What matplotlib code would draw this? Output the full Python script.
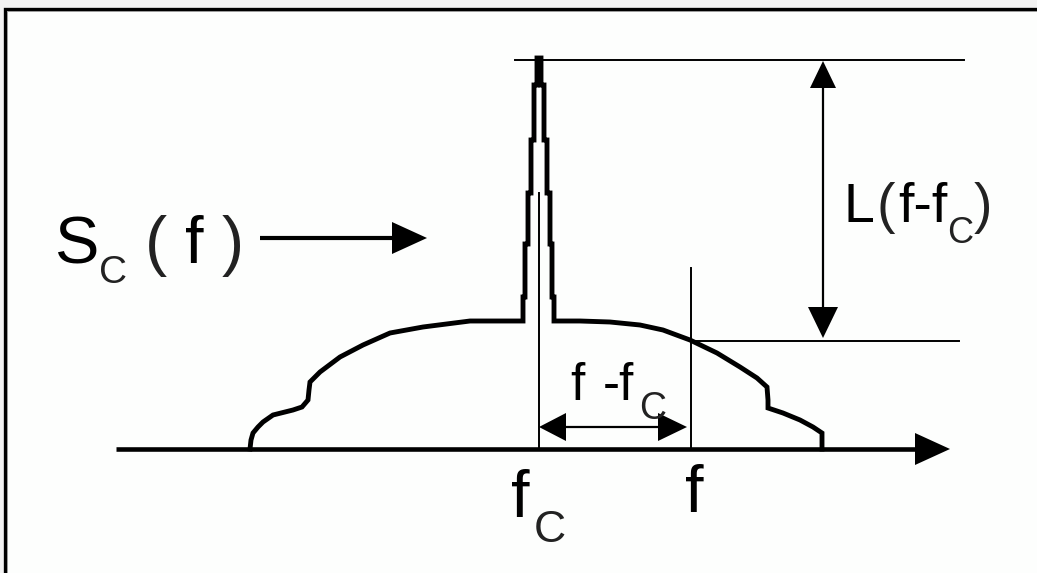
import matplotlib
matplotlib.use("Agg")
import matplotlib.pyplot as plt

# ---------------- data (pixel coordinates) ----------------
# spectrum S_C(f): left skirt, carrier peak, right skirt
curve_x = [250, 251, 253, 258, 263, 273, 285, 293, 302, 308, 309, 310, 320, 340, 363, 390, 423, 470, 523,
           523, 525, 525, 528, 528, 531, 531, 534, 534, 537, 537, 541, 541, 544, 544, 547, 547, 550, 550, 552, 552, 554,
           554, 580, 610, 640, 663, 690, 717, 740, 757, 767, 768, 768, 783, 800, 813, 822, 822]
curve_y = [449, 440, 433, 427, 422, 415, 412, 410, 407, 400, 390, 382, 372, 357, 345, 333, 327, 321, 321,
           297, 297, 244, 244, 193, 193, 140, 140, 85, 85, 58, 58, 85, 85, 140, 140, 193, 193, 244, 244, 297, 297,
           321, 321, 322, 325, 330, 340, 353, 367, 378, 387, 400, 408, 413, 420, 427, 433, 449]

# axis
axis_x = [116, 950]
axis_y = 449

# marker frequencies
fc_x = 539
f_x = 691
fc_line_top = 193
f_line_top = 268

# reference levels
peak_level = 60
noise_level = 341
peak_line_x = [515, 964]
noise_line_x = [690, 959]
L_arrow_x = 823

# S_C(f) pointer arrow
sc_arrow_x = [260, 427]
sc_arrow_y = 238

# f - f_C offset arrow
off_arrow_y = 427

W, H = 1037, 573
fig = plt.figure(figsize=(W / 100, H / 100), dpi=100, facecolor="#f3f3f3")
ax = fig.add_axes([0, 0, 1, 1])
ax.set_xlim(0, W)
ax.set_ylim(H, 0)
ax.axis("off")

# frame: white panel with black top/left border
ax.add_patch(plt.Rectangle((4, 8), W, H, facecolor="#fdfefd", edgecolor="none", zorder=0))
ax.plot([4.5, 4.5, W], [H, 8.5, 8.5], color="black", lw=2.4, solid_joinstyle="miter", zorder=1)
ax.plot([6.5, 6.5, W], [H, 10.5, 10.5], color="#9a9a9a", lw=0.7, zorder=1)

K = "black"


def head(tip_x, tip_y, dx, dy, length, half):
    # filled triangular arrow head pointing in direction (dx, dy)
    bx, by = tip_x - dx * length, tip_y - dy * length
    px, py = -dy * half, dx * half
    ax.fill([tip_x, bx + px, bx - px], [tip_y, by + py, by - py], color=K, lw=0, zorder=4)


# horizontal axis with arrow
ax.plot([axis_x[0], axis_x[1] - 30], [axis_y, axis_y], color=K, lw=3.3, solid_capstyle="butt", zorder=3)
head(axis_x[1], axis_y, 1, 0, 35, 16)

# spectrum curve
ax.plot(curve_x, curve_y, color=K, lw=3.5, solid_joinstyle="miter", zorder=3)

# vertical marker lines
ax.plot([fc_x, fc_x], [fc_line_top, axis_y], color=K, lw=1.4, zorder=2)
ax.plot([f_x, f_x], [f_line_top, axis_y], color=K, lw=1.4, zorder=2)

# reference level lines
ax.plot(peak_line_x, [peak_level, peak_level], color=K, lw=1.4, zorder=2)
ax.plot(noise_line_x, [noise_level, noise_level], color=K, lw=1.4, zorder=2)

# L(f-fc) double arrow
ax.plot([L_arrow_x, L_arrow_x], [peak_level + 20, noise_level - 20], color=K, lw=1.6, zorder=3)
head(L_arrow_x, peak_level + 1, 0, -1, 27, 13)
head(L_arrow_x, noise_level - 3, 0, 1, 31, 15)

# S_C(f) pointer arrow
ax.plot([sc_arrow_x[0], sc_arrow_x[1] - 25], [sc_arrow_y, sc_arrow_y], color=K, lw=3.0,
        solid_capstyle="butt", zorder=3)
head(sc_arrow_x[1], sc_arrow_y, 1, 0, 35, 16)

# f - fc double arrow
ax.plot([fc_x + 15, f_x - 15], [off_arrow_y, off_arrow_y], color=K, lw=1.6, zorder=3)
head(fc_x, off_arrow_y, -1, 0, 27, 14)
head(f_x - 4, off_arrow_y, 1, 0, 29, 14)

FONT = "Liberation Sans"


def txt(x, y, s, size, weight="normal", color=K):
    ax.text(x, y, s, fontsize=size, family=FONT, ha="left", va="baseline",
            color=color, fontweight=weight, zorder=5)


# S_C ( f )
txt(54, 263, "S", 48)
txt(99, 283, "C", 28, color="#222222")
txt(145, 263, "(", 48, color="#222222")
txt(185, 263, "f", 48)
txt(222, 263, ")", 48, color="#222222")

# L(f-fC)
txt(843, 222, "L", 40)
txt(876, 222, "(", 40, color="#222222")
txt(898, 222, "f-f", 40)
txt(947, 243, "C", 26, color="#222222")
txt(974, 222, ")", 40, color="#222222")

# f - fC
txt(570, 400, "f", 37)
txt(603, 400, "-f", 37)
txt(639, 419, "C", 27, color="#222222")

# fC and f on the axis
txt(511, 517, "f", 48)
txt(534, 542, "C", 32, color="#222222")
txt(685, 512, "f", 48)

fig.savefig("out.png", dpi=100, facecolor=fig.get_facecolor())
